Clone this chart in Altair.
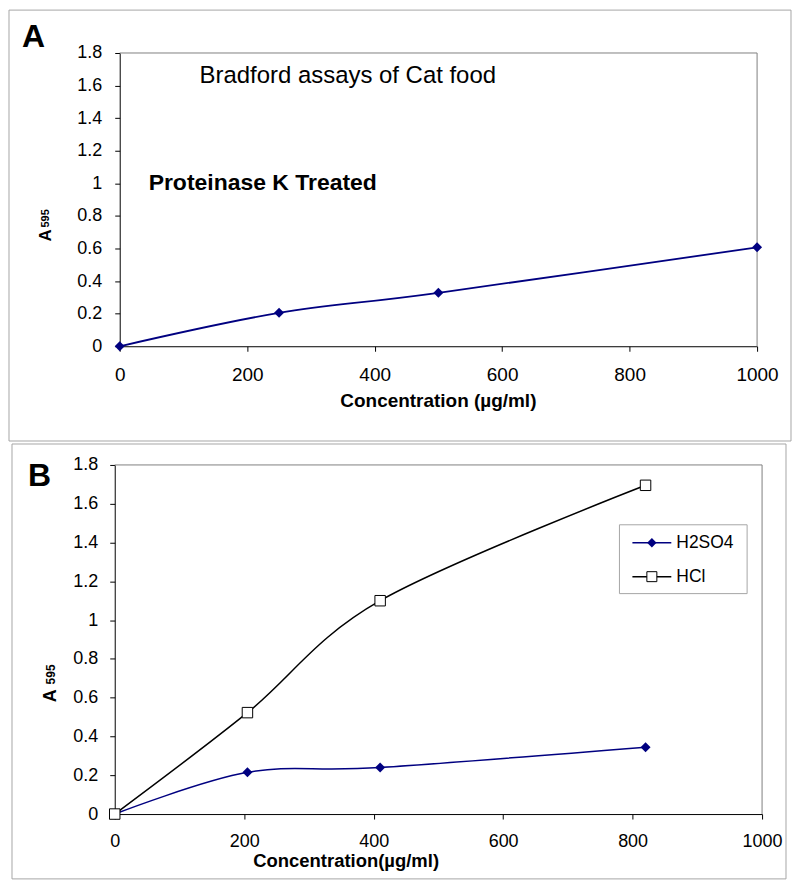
import altair as alt
import pandas as pd

# ---------------- data ----------------
conc_a = [0, 250, 500, 1000]
abs_a = [0.0, 0.205, 0.328, 0.607]

conc_b = [0, 205, 410, 820]
h2so4 = [0.0, 0.215, 0.240, 0.345]
hcl = [0.0, 0.523, 1.100, 1.695]
series_names = ["H2SO4", "HCl"]

y_ticks = [0, 0.2, 0.4, 0.6, 0.8, 1.0, 1.2, 1.4, 1.6, 1.8]
x_ticks = [0, 200, 400, 600, 800, 1000]

FONT = "Liberation Sans"
NAVY = "#000080"
FRAME = "#a6a6a6"
BORDER = "#808080"

df_a = pd.DataFrame({"conc": conc_a, "abs": abs_a})
df_b = pd.DataFrame({
    "conc": conc_b + conc_b,
    "abs": h2so4 + hcl,
    "series": [series_names[0]] * len(conc_b) + [series_names[1]] * len(conc_b),
})

one = alt.Data(values=[{"k": 1}])


def box(x1, x2, y1, y2, stroke=FRAME, fill=None):
    if fill is None:
        m = alt.Chart(one).mark_rect(filled=False, stroke=stroke, strokeWidth=1)
    else:
        m = alt.Chart(one).mark_rect(fill=fill, stroke=stroke, strokeWidth=1)
    return m.encode(x=alt.value(x1), x2=alt.value(x2), y=alt.value(y1), y2=alt.value(y2))


def hrule(x1, x2, y, color=BORDER, width=1):
    return alt.Chart(one).mark_rule(color=color, strokeWidth=width).encode(
        x=alt.value(x1), x2=alt.value(x2), y=alt.value(y))


def vrule(x, y1, y2, color=BORDER, width=1):
    return alt.Chart(one).mark_rule(color=color, strokeWidth=width).encode(
        x=alt.value(x), y=alt.value(y1), y2=alt.value(y2))


def label(txt, x, y, size, weight="normal", angle=0, baseline="alphabetic"):
    return alt.Chart(one).mark_text(
        text=txt, font=FONT, fontSize=size, fontWeight=weight, color="black",
        align="left", baseline=baseline, angle=angle
    ).encode(x=alt.value(x), y=alt.value(y))


def xaxis(title, tx, ty, lsize, tsize):
    return alt.Axis(values=x_ticks, format="d", title=title, grid=False, labelFlush=False,
                    labelFontSize=lsize, labelPadding=14, tickSize=5,
                    titleFontSize=tsize, titleFontWeight="bold",
                    titleX=tx, titleY=ty, titleBaseline="middle")


def yaxis(lsize, pad, offset=0):
    return alt.Axis(values=y_ticks, format="~g", title=None, grid=False, offset=offset,
                    labelFontSize=lsize, labelPadding=pad, tickSize=5)


# ---------------- panel A ----------------
# the plot area of A starts 5px to the right of panel B's plot area
D = 5
WA, HA = 644, 294
xA = alt.X("conc:Q", scale=alt.Scale(domain=[0, 1000], nice=False, range=[D, WA]),
           axis=xaxis("Concentration (µg/ml)", 324, 54, 19, 19))
yA = alt.Y("abs:Q", scale=alt.Scale(domain=[0, 1.8], nice=False), axis=yaxis(18, 13, -D))

lineA = alt.Chart(df_a).mark_line(interpolate="cardinal", color=NAVY, strokeWidth=1.8).encode(x=xA, y=yA)
ptsA = alt.Chart(df_a).mark_point(shape="diamond", filled=True, size=100, color=NAVY, opacity=1).encode(x=xA, y=yA)

panelA = alt.layer(
    box(-106, WA + 34, -43, HA + 95),
    hrule(D, WA, 0), vrule(WA, 0, HA),
    lineA, ptsA,
    label("A", -93, -6, 32, "bold"),
    label("Bradford assays of Cat food", 85, 30, 24),
    label("Proteinase K Treated", 34, 137, 23, "bold"),
    label("A", -64, 189, 17, "bold", 270),
    label("595", -66, 175, 11, "bold", 270),
).properties(width=WA, height=HA)

# ---------------- panel B ----------------
WB, HB = 649, 350
xB = alt.X("conc:Q", scale=alt.Scale(domain=[0, 1000], nice=False),
           axis=xaxis("Concentration(µg/ml)", 231.5, 47, 18, 18.5))
yB = alt.Y("abs:Q", scale=alt.Scale(domain=[0, 1.8], nice=False), axis=yaxis(18, 12))

lineB = alt.Chart(df_b).mark_line(interpolate="cardinal", strokeWidth=1.5).encode(
    x=xB, y=yB,
    color=alt.Color("series:N", scale=alt.Scale(domain=series_names, range=[NAVY, "black"]), legend=None),
)
ptsH2 = alt.Chart(df_b).transform_filter(alt.datum.series == "H2SO4").mark_point(
    shape="diamond", filled=True, size=100, color=NAVY, opacity=1).encode(x=xB, y=yB)
ptsHC = alt.Chart(df_b).transform_filter(alt.datum.series == "HCl").mark_point(
    shape="square", filled=True, fill="white", stroke="black", strokeWidth=1, size=110, opacity=1
).encode(x=xB, y=yB)

# legend (drawn as marks, placed inside the plot area)
LX, LY = 506, 60
legend_layers = [
    box(LX, LX + 128, LY, LY + 69, stroke=FRAME, fill="white"),
    hrule(LX + 13, LX + 52, LY + 18, color=NAVY, width=1.5),
    alt.Chart(one).mark_point(shape="diamond", filled=True, size=90, color=NAVY, opacity=1).encode(
        x=alt.value(LX + 32.5), y=alt.value(LY + 18)),
    label(series_names[0], LX + 57, LY + 18, 17.5, baseline="middle"),
    hrule(LX + 13, LX + 52, LY + 52, color="black", width=1.5),
    alt.Chart(one).mark_point(shape="square", filled=True, fill="white", stroke="black",
                              strokeWidth=1, size=100, opacity=1).encode(
        x=alt.value(LX + 32.5), y=alt.value(LY + 52)),
    label(series_names[1], LX + 57, LY + 52, 17.5, baseline="middle"),
]

panelB = alt.layer(
    box(-103, WB + 24, -21, HB + 65),
    hrule(0, WB, 0), vrule(WB, 0, HB),
    lineB, ptsH2, ptsHC,
    *legend_layers,
    label("B", -87, 21, 32, "bold"),
    label("A", -59, 238, 18, "bold", 270),
    label("595", -60, 220, 12, "bold", 270),
).properties(width=WB, height=HB)

chart = alt.vconcat(panelA, panelB, spacing=1).properties(
    padding={"left": 0, "top": 0, "right": 0, "bottom": 0}
).configure_view(strokeOpacity=0).configure_axis(
    labelFont=FONT, titleFont=FONT, labelColor="black", titleColor="black",
    domainColor="black", tickColor="black", domainWidth=1, tickWidth=1
)

chart.save("out.html", embed_options={"renderer": "svg", "actions": False})
